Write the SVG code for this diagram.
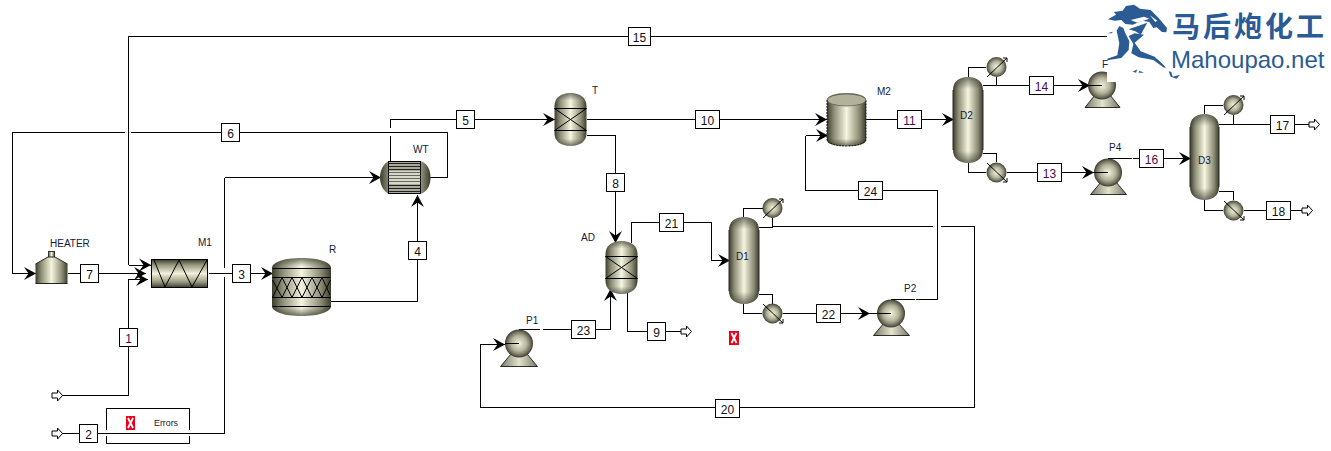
<svg xmlns="http://www.w3.org/2000/svg" width="1331" height="451" viewBox="0 0 1331 451">
<style>
text{font-family:"Liberation Sans",Arial,sans-serif}
.l{fill:none;stroke:#000;stroke-width:1;shape-rendering:crispEdges}
.a{marker-end:url(#arr)}
.box{fill:#fff;stroke:#000;stroke-width:1;shape-rendering:crispEdges}
.s{font-size:12px;fill:#111;text-anchor:middle}
.p{fill:#4a0a4a}
.n{font-size:10px;fill:#10203a}
.e{fill:none;stroke:#000;stroke-width:1}
.v{fill:url(#hg)}
.sh{fill:url(#shade)}
.sph{fill:url(#rg)}
.base{fill:url(#hg2);stroke:#000;stroke-width:.8}
.feed{fill:#fff;stroke:#000;stroke-width:1}
.edge{fill:none;stroke:#2a2a20;stroke-width:1}
.logo{fill:#2a5b94}
</style>
<defs>
<linearGradient id="hg"><stop offset="0" stop-color="#3c3c2e"/><stop offset=".18" stop-color="#8f8f78"/><stop offset=".5" stop-color="#f6f6e0"/><stop offset=".82" stop-color="#8f8f78"/><stop offset="1" stop-color="#3c3c2e"/></linearGradient>
<linearGradient id="hg2"><stop offset="0" stop-color="#77776a"/><stop offset=".5" stop-color="#e4e4cc"/><stop offset="1" stop-color="#77776a"/></linearGradient>
<linearGradient id="vg" x2="0" y2="1"><stop offset="0" stop-color="#3c3c2e"/><stop offset=".2" stop-color="#9a9a82"/><stop offset=".5" stop-color="#f2f2dc"/><stop offset=".8" stop-color="#9a9a82"/><stop offset="1" stop-color="#3c3c2e"/></linearGradient>
<linearGradient id="shade" x2="0" y2="1"><stop offset="0" stop-color="#22221a" stop-opacity=".6"/><stop offset=".14" stop-color="#22221a" stop-opacity="0"/><stop offset=".86" stop-color="#22221a" stop-opacity="0"/><stop offset="1" stop-color="#22221a" stop-opacity=".6"/></linearGradient>
<radialGradient id="rg"><stop offset="0" stop-color="#f4f4de"/><stop offset=".55" stop-color="#b4b49c"/><stop offset=".85" stop-color="#6c6c5a"/><stop offset="1" stop-color="#3a3a2c"/></radialGradient>
<marker id="arr" markerUnits="userSpaceOnUse" markerWidth="14" markerHeight="16" refX="12" refY="8" orient="auto"><path d="M12 8L0 1.500L4.500 8L0 14.500Z" fill="#000"/></marker>
<path id="fa" class="feed" d="M0 -2.500H5.500V-5.500L10.500 0L5.500 5.500V2.500H0Z"/>
</defs>

<g id="connectors">
<path class="l" d="M128.500 265V36.500H628M650 36.500H1107"/>
<path class="l a" d="M128.500 265H151"/>
<path class="l" d="M447.500 177H430M447.500 177V132.500H240M221 132.500H131M125 132.500H12.500V273.500"/>
<path class="l a" d="M12.500 273.500H36"/>
<path class="l" d="M68 273.500H80"/>
<path class="l a" d="M99 273.500H146"/>
<path class="l a" d="M128.500 395.500V279.500H148"/>
<path class="l" d="M62 395.500H128.500"/>
<path class="l" d="M62 433.500H79M98 433.500H224.500V277M224.500 268V177.500"/>
<path class="l a" d="M224.500 177.500H381"/>
<path class="l" d="M209 273.500H232"/>
<path class="l a" d="M251 273.500H273"/>
<path class="l" d="M331 301.500H417.500V260"/>
<path class="l a" d="M417.500 241V195"/>
<path class="l" d="M390.500 161V136M390.500 128V119.500H456"/>
<path class="l a" d="M475 119.500H555"/>
<path class="l" d="M587 119.500H695"/>
<path class="l a" d="M719 119.500H827"/>
<path class="l" d="M587 135.500H615.500V173"/>
<path class="l a" d="M615.500 191V243"/>
<path class="l" d="M631.500 243V222.500H659"/>
<path class="l a" d="M684 222.500H711.500V260.500H730"/>
<path class="l" d="M627.500 293V331.500H647M665 331.500H681"/>
<path class="l" d="M519 329.500H540M543 329.500H571"/>
<path class="l a" d="M596 329.500H610.500V289"/>
<path class="l a" d="M974.500 226.500V407.500H739M715 407.500H480.500V344.500H505"/>
<path class="l" d="M505 344.500H519"/>
<path class="l" d="M759 227.500H772.500V218M772.500 226.500H933M941 226.500H974.500"/>
<path class="l" d="M743.500 217V208.500H763"/>
<path class="l" d="M743.500 304V313.500H762M759 294.500H772.500V304M783 313.500H816"/>
<path class="l a" d="M840 313.500H870"/>
<path class="l" d="M868 313.500H891"/>
<path class="l" d="M891 299.500H915M916 299.500H937.500V190.500H883M858 190.500H805.500V135.500"/>
<path class="l a" d="M805.500 135.500H828"/>
<path class="l" d="M866 119.500H897"/>
<path class="l a" d="M921 119.500H954"/>
<path class="l" d="M968.500 77V67.500H986M996.500 77V85.500M983 85.500H1029"/>
<path class="l a" d="M1054 85.500H1090"/>
<path class="l" d="M1086 85.500H1102"/>
<path class="l" d="M968.500 163V172.500H986M983 153.500H996.500V162M1007 172.500H1037"/>
<path class="l a" d="M1062 172.500H1094"/>
<path class="l" d="M1090 172.500H1108"/>
<path class="l" d="M1108 158.500H1132M1133 158.500H1139"/>
<path class="l a" d="M1164 158.500H1191"/>
<path class="l" d="M1204.500 114V105.500H1223M1233.500 115V124.500M1219 124.500H1270M1295 124.500H1309"/>
<path class="l" d="M1204.500 200V210.500H1223M1219 191.500H1233.500V200M1244 210.500H1266M1291 210.500H1302"/>
</g>

<g id="errors">
<path class="l" d="M106.500 430V408.500H189.500V430M106.500 436V443.500H189.500V436"/>
<rect x="126" y="416" width="9" height="14" fill="#e8001c"/>
<path d="M128 418L133 428M133 418L128 428" stroke="#fff" stroke-width="1.800" fill="none"/>
<text x="154" y="426" font-size="9" fill="#222" textLength="24" lengthAdjust="spacingAndGlyphs">Errors</text>
</g>
<g id="errflag"><rect x="729" y="331" width="10" height="14" fill="#e8001c"/><path d="M731.500 333L736.500 343M736.500 333L731.500 343" stroke="#fff" stroke-width="1.800" fill="none"/></g>

<g id="feed1"><use href="#fa" x="52" y="395.500"/></g>
<g id="feed2"><use href="#fa" x="52" y="433.500"/></g>
<g id="prod9"><use href="#fa" x="681" y="331.500"/></g>
<g id="prod17"><use href="#fa" x="1309" y="124.500"/></g>
<g id="prod18"><use href="#fa" x="1302" y="210.500"/></g>

<g id="HEATER">
<rect x="48.500" y="251.500" width="6" height="6" class="v" stroke="#333"/>
<path class="v" d="M35.500 264L48 257H55L67.500 264V283.500H35.500Z"/>
<path class="edge" d="M35.500 264L48 257H55L67.500 264"/>
<path d="M35.500 283.500H67.500" stroke="#222" fill="none"/>
<text class="n" x="50" y="247">HEATER</text>
</g>

<g id="M1">
<rect x="151.500" y="259.500" width="56" height="28" fill="url(#vg)" stroke="#000"/>
<path class="e" d="M154 260L165 287L179 260L192 287L207 260" stroke-width=".9"/>
<text class="n" x="198" y="246">M1</text>
</g>

<g id="R">
<path class="v" d="M272 268C272 262 285 258 301.500 258C318 258 331 262 331 268V306C331 312 318 316 301.500 316C285 316 272 312 272 306Z"/>
<path class="sh" d="M272 268C272 262 285 258 301.500 258C318 258 331 262 331 268V306C331 312 318 316 301.500 316C285 316 272 312 272 306Z"/>
<path class="e" d="M272.500 268.500H330.500M272.500 277.500H330.500M272.500 297.500H330.500M272.500 306.500H330.500"/>
<path class="e" d="M272.500 297.500L282 277.500L292 297.500L302 277.500L312 297.500L322 277.500L330 295M272.500 280L282 297.500L292 277.500L302 297.500L312 277.500L322 297.500L330.500 280" stroke-width=".8"/>
<text class="n" x="329" y="253">R</text>
</g>

<g id="WT">
<path class="v" d="M388 161.500H422C428 164 430.500 171 430.500 177.500C430.500 184 428 191 422 193.500H388C383 191 380 184 380 177.500C380 171 383 164 388 161.500Z"/>
<rect x="388.500" y="161.500" width="32" height="32" fill="#d8d8c4" stroke="#000"/>
<path d="M388.500 163.500H420.500M388.500 166.500H420.500M388.500 169.500H420.500M388.500 185.500H420.500M388.500 188.500H420.500M388.500 191.500H420.500" stroke="#222" stroke-width="1.500" fill="none"/>
<path d="M388.500 172.500H420.500M388.500 175.500H420.500M388.500 178.500H420.500M388.500 181.500H420.500" stroke="#666" stroke-width="1" fill="none"/>
<text class="n" x="413" y="153">WT</text>
</g>

<g id="T">
<path class="v" d="M554.500 106C554.500 98 561 93 570.500 93C580 93 586.500 98 586.500 106V134C586.500 141 580 146 570.500 146C561 146 554.500 141 554.500 134Z"/>
<path class="sh" d="M554.500 106C554.500 98 561 93 570.500 93C580 93 586.500 98 586.500 106V134C586.500 141 580 146 570.500 146C561 146 554.500 141 554.500 134Z"/>
<path class="e" d="M554.500 108.500H586.500M554.500 130.500H586.500M554.500 108.500L586.500 130.500M554.500 130.500L586.500 108.500"/>
<text class="n" x="592" y="94">T</text>
</g>

<g id="AD">
<path class="v" d="M605.500 254C605.500 246 612 241 621.500 241C631 241 637.500 246 637.500 254V281C637.500 289 631 294 621.500 294C612 294 605.500 289 605.500 281Z"/>
<path class="sh" d="M605.500 254C605.500 246 612 241 621.500 241C631 241 637.500 246 637.500 254V281C637.500 289 631 294 621.500 294C612 294 605.500 289 605.500 281Z"/>
<path class="e" d="M605.500 256.500H637.500M605.500 278.500H637.500M605.500 256.500L637.500 278.500M605.500 278.500L637.500 256.500"/>
<text class="n" x="581" y="241">AD</text>
</g>

<g id="M2">
<path class="v" d="M827 100C827 96 836 93 846.500 93C857 93 866 96 866 100V140C866 144 857 146 846.500 146C836 146 827 144 827 140Z"/>
<path class="sh" d="M827 100C827 96 836 93 846.500 93C857 93 866 96 866 100V140C866 144 857 146 846.500 146C836 146 827 144 827 140Z"/>
<ellipse cx="846.500" cy="100" rx="19.500" ry="6" fill="#b2b29a" stroke="#555" stroke-width=".7"/>
<path d="M827 100V140C828 143 834 146 846.500 146C859 146 865 143 866 140V100" fill="none" stroke="#111" stroke-dasharray="2 1"/>
<text class="n" x="877" y="95">M2</text>
</g>

<g id="D1">
<path class="v" d="M729 230C729 222 735 217 744 217C753 217 759 222 759 230V291C759 299 753 304 744 304C735 304 729 299 729 291Z"/>
<path class="sh" d="M729 230C729 222 735 217 744 217C753 217 759 222 759 230V291C759 299 753 304 744 304C735 304 729 299 729 291Z"/>
<path class="edge" d="M729 230V291M759 230V291"/>
<text class="n" x="736" y="260">D1</text>
</g>
<g id="D1-cond"><circle cx="772.500" cy="208" r="10" class="sph"/><path d="M763 218L783 199" class="e"/><path d="M779 199H783V203" class="e"/></g>
<g id="D1-reb"><circle cx="772.500" cy="313.500" r="10" class="sph"/><path d="M763 304L783 323" class="e"/><path d="M779 323H783V319" class="e"/></g>

<g id="D2">
<path class="v" d="M953 90C953 82 959 77 968 77C977 77 983 82 983 90V150C983 158 977 163 968 163C959 163 953 158 953 150Z"/>
<path class="sh" d="M953 90C953 82 959 77 968 77C977 77 983 82 983 90V150C983 158 977 163 968 163C959 163 953 158 953 150Z"/>
<path class="edge" d="M953 90V150M983 90V150"/>
<text class="n" x="960" y="119">D2</text>
</g>
<g id="D2-cond"><circle cx="996.500" cy="67" r="10" class="sph"/><path d="M987 77L1007 58" class="e"/><path d="M1003 58H1007V62" class="e"/></g>
<g id="D2-reb"><circle cx="996.500" cy="172.500" r="10" class="sph"/><path d="M987 163L1007 182" class="e"/><path d="M1003 182H1007V178" class="e"/></g>

<g id="D3">
<path class="v" d="M1190 127C1190 119 1196 114 1204.500 114C1213 114 1219 119 1219 127V187C1219 195 1213 200 1204.500 200C1196 200 1190 195 1190 187Z"/>
<path class="sh" d="M1190 127C1190 119 1196 114 1204.500 114C1213 114 1219 119 1219 127V187C1219 195 1213 200 1204.500 200C1196 200 1190 195 1190 187Z"/>
<path class="edge" d="M1190 127V187M1219 127V187"/>
<text class="n" x="1198" y="164">D3</text>
</g>
<g id="D3-cond"><circle cx="1233.500" cy="105" r="10" class="sph"/><path d="M1224 115L1244 96" class="e"/><path d="M1240 96H1244V100" class="e"/></g>
<g id="D3-reb"><circle cx="1233.500" cy="210.500" r="10" class="sph"/><path d="M1224 201L1244 220" class="e"/><path d="M1240 220H1244V216" class="e"/></g>

<g id="P1"><path class="base" d="M500.500 366.500L511 354H527L537.500 366.500Z"/><circle cx="519" cy="343.500" r="14" class="sph"/><path d="M505 343.500H519" class="l"/><text class="n" x="526" y="324">P1</text></g>
<g id="P2"><path class="base" d="M873.500 335.500L884 323H898L909.500 335.500Z"/><circle cx="891" cy="313.500" r="14" class="sph"/><path d="M877 313.500H891" class="l"/><text class="n" x="904" y="292">P2</text></g>
<g id="P3"><path class="base" d="M1085 107.500L1095 95H1110L1120 107.500Z"/><circle cx="1102" cy="85.500" r="14" class="sph"/><path d="M1088 85.500H1102" class="l"/><text class="n" x="1102" y="68">F</text></g>
<g id="P4"><path class="base" d="M1090.500 194.500L1101 182H1116L1126.500 194.500Z"/><circle cx="1108" cy="172.500" r="14" class="sph"/><path d="M1094 172.500H1108" class="l"/><text class="n" x="1109" y="151">P4</text></g>

<g id="s1"><rect class="box" x="119.500" y="328.500" width="18" height="18"/><text class="s p" x="128.500" y="342.500">1</text></g>
<g id="s2"><rect class="box" x="79.500" y="424.500" width="18" height="18"/><text class="s" x="88.500" y="438.500">2</text></g>
<g id="s3"><rect class="box" x="232.500" y="264.500" width="18" height="18"/><text class="s" x="241.500" y="278.500">3</text></g>
<g id="s4"><rect class="box" x="408.500" y="241.500" width="18" height="18"/><text class="s" x="417.500" y="255.500">4</text></g>
<g id="s5"><rect class="box" x="456.500" y="110.500" width="18" height="18"/><text class="s" x="465.500" y="124.500">5</text></g>
<g id="s6"><rect class="box" x="221.500" y="123.500" width="18" height="18"/><text class="s" x="230.500" y="137.500">6</text></g>
<g id="s7"><rect class="box" x="80.500" y="264.500" width="18" height="18"/><text class="s" x="89.500" y="278.500">7</text></g>
<g id="s8"><rect class="box" x="606.500" y="173.500" width="18" height="18"/><text class="s" x="615.500" y="187.500">8</text></g>
<g id="s9"><rect class="box" x="647.500" y="322.500" width="18" height="18"/><text class="s" x="656.500" y="336.500">9</text></g>
<g id="s10"><rect class="box" x="695.500" y="110.500" width="24" height="18"/><text class="s" x="707.500" y="124.500">10</text></g>
<g id="s11"><rect class="box" x="897.500" y="110.500" width="24" height="18"/><text class="s p" x="909.500" y="124.500">11</text></g>
<g id="s13"><rect class="box" x="1037.500" y="163.500" width="24" height="18"/><text class="s p" x="1049.500" y="177.500">13</text></g>
<g id="s14"><rect class="box" x="1029.500" y="76.500" width="24" height="18"/><text class="s p" x="1041.500" y="90.500">14</text></g>
<g id="s15"><rect class="box" x="628.500" y="27.500" width="22" height="18"/><text class="s" x="639.500" y="41.500">15</text></g>
<g id="s16"><rect class="box" x="1139.500" y="149.500" width="24" height="18"/><text class="s p" x="1151.500" y="163.500">16</text></g>
<g id="s17"><rect class="box" x="1270.500" y="115.500" width="24" height="18"/><text class="s" x="1282.500" y="129.500">17</text></g>
<g id="s18"><rect class="box" x="1266.500" y="201.500" width="24" height="18"/><text class="s" x="1278.500" y="215.500">18</text></g>
<g id="s20"><rect class="box" x="715.500" y="399.500" width="24" height="18"/><text class="s" x="727.500" y="413.500">20</text></g>
<g id="s21"><rect class="box" x="659.500" y="213.500" width="24" height="18"/><text class="s" x="671.500" y="227.500">21</text></g>
<g id="s22"><rect class="box" x="816.500" y="304.500" width="24" height="18"/><text class="s" x="828.500" y="318.500">22</text></g>
<g id="s23"><rect class="box" x="571.500" y="320.500" width="24" height="18"/><text class="s" x="583.500" y="334.500">23</text></g>
<g id="s24"><rect class="box" x="858.500" y="181.500" width="24" height="18"/><text class="s" x="870.500" y="195.500">24</text></g>

<g id="logo">
<path fill="#fff" d="M1107 70H1122V82H1107Z"/>
<g transform="translate(1100 0) scale(.3333)">
<path class="logo" d="M24 58L48 44L42 36L68 32L78 18L102 14L120 26L152 30L176 54L201 84L199 97L186 96L170 82L160 84L148 66L128 62L98 74L76 72L64 60L44 62Z"/>
<path fill="#fff" d="M92 60L132 50L148 56L112 68ZM150 46L172 62L166 66Z"/>
<path class="logo" d="M86 88L142 68L122 104L106 94Z"/>
<path class="logo" d="M58 78L70 84L76 100L88 124L86 150L64 174L22 181V176L52 166L58 130L50 92Z"/>
<path class="logo" d="M86 108L104 100L132 104L104 128L122 154L164 170L198 204L190 202L160 180L116 172L94 160L100 132Z"/>
<path class="logo" d="M98 215L112 208L108 218ZM118 212L132 218H116ZM206 214L214 216L218 230L240 224L230 236L212 230Z"/>
<path class="logo" d="M22 100L38 95L36 100ZM165 178L172 178L196 200L190 200Z"/>
</g>
<text x="1172" y="37" font-size="28" font-weight="bold" fill="#2a5b94" textLength="152" lengthAdjust="spacing" style="font-family:'Noto Sans CJK SC','Noto Sans',sans-serif">马后炮化工</text>
<text x="1171" y="68" font-size="24" fill="#2a5b94">Mahoupao.net</text>
</g>
</svg>
